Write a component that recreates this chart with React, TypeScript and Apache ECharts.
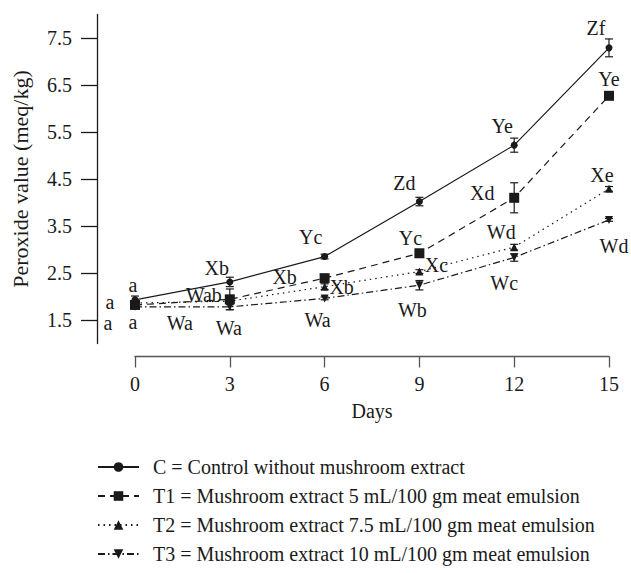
import React, { useEffect, useRef } from "react";
import * as echarts from "echarts";

const days = [0, 3, 6, 9, 12, 15];
const yTicks = [1.5, 2.5, 3.5, 4.5, 5.5, 6.5, 7.5];

const seriesNames = [
  "C = Control without mushroom extract",
  "T1 = Mushroom extract 5 mL/100 gm meat emulsion",
  "T2 = Mushroom extract 7.5 mL/100 gm meat emulsion",
  "T3 = Mushroom extract 10 mL/100 gm meat emulsion",
];

const cValues = [1.93, 2.31, 2.85, 4.02, 5.22, 7.29];
const t1Values = [1.82, 1.94, 2.39, 2.92, 4.1, 6.27];
const t2Values = [1.86, 1.9, 2.21, 2.53, 3.05, 4.29];
const t3Values = [1.78, 1.78, 1.96, 2.24, 2.83, 3.63];

const cErrors = [0.08, 0.1, 0.05, 0.09, 0.15, 0.19];
const t1Errors = [0.03, 0.22, 0.04, 0.04, 0.32, 0.04];
const t2Errors = [0.04, 0.04, 0.06, 0.04, 0.06, 0.05];
const t3Errors = [0.03, 0.06, 0.03, 0.1, 0.08, 0.03];

const cLabels = ["a", "Xb", "Yc", "Zd", "Ye", "Zf"];
const t1Labels = ["a", "Wab", "Xb", "Yc", "Xd", "Ye"];
const t2Labels = ["a", "Wa", "Xb", "Xc", "Wd", "Xe"];
const t3Labels = ["a", "Wa", "Wa", "Wb", "Wc", "Wd"];

// label placement (pixel offsets from the point) - styling only
const cOffsets = [[-2, -15], [-13, -14], [-14, -20], [-15, -19], [-12, -19], [-13, -20]];
const t1Offsets = [[-25, -3], [-26, -4], [-40, -1], [-9, -15], [-32, -5], [0, -17]];
const t2Offsets = [[-27, 20], [-50, 22], [17, 0], [17, -7], [-13, -15], [-7, -14]];
const t3Offsets = [[-2, 15], [-1, 21], [-7, 22], [-7, 25], [-10, 26], [5, 26]];

const FONT = "'Liberation Serif', 'Times New Roman', serif";
const INK = "#1a1a1a";
const FS = 20;

export default function App() {
  const ref = useRef<HTMLDivElement>(null);
  useEffect(() => {
    if (!ref.current) return;
    const chart = echarts.init(ref.current, undefined, { renderer: "svg" });

    const makeLine = (
      name: string,
      values: number[],
      labels: string[],
      offsets: number[][],
      symbol: string,
      symbolSize: number,
      rotate: number,
      lineType: any
    ) => ({
      type: "line",
      name,
      symbol,
      symbolSize,
      symbolRotate: rotate,
      showAllSymbol: true,
      z: 3,
      itemStyle: { color: INK, borderWidth: 0 },
      lineStyle: { color: INK, width: 1.2, type: lineType },
      data: values.map((v, i) => ({
        value: [days[i], v],
        label: {
          show: true,
          formatter: labels[i],
          position: "inside",
          offset: offsets[i],
          color: INK,
          fontFamily: FONT,
          fontSize: FS,
          lineHeight: 16,
          align: "center",
          verticalAlign: "middle",
        },
      })),
    });

    const makeErr = (values: number[], errors: number[]) => ({
      type: "custom",
      z: 2,
      silent: true,
      encode: { x: 0, y: 1 },
      data: values.map((v, i) => [days[i], v, errors[i]]),
      renderItem: (params: any, api: any) => {
        const x = api.value(0);
        const y = api.value(1);
        const e = api.value(2);
        const top = api.coord([x, y + e]);
        const bot = api.coord([x, y - e]);
        const hw = 4;
        const st = { stroke: INK, lineWidth: 1.2 };
        return {
          type: "group",
          children: [
            { type: "line", shape: { x1: top[0], y1: top[1], x2: bot[0], y2: bot[1] }, style: st },
            { type: "line", shape: { x1: top[0] - hw, y1: top[1], x2: top[0] + hw, y2: top[1] }, style: st },
            { type: "line", shape: { x1: bot[0] - hw, y1: bot[1], x2: bot[0] + hw, y2: bot[1] }, style: st },
          ],
        };
      },
    });

    const option: any = {
      animation: false,
      backgroundColor: "#ffffff",
      textStyle: { fontFamily: FONT, color: INK },
      grid: { left: 135, right: 22, top: 14.5, height: 329, containLabel: false },
      xAxis: {
        type: "value",
        min: 0,
        max: 15,
        interval: 3,
        offset: 13,
        name: "Days",
        nameLocation: "middle",
        nameGap: 44,
        nameTextStyle: { fontFamily: FONT, fontSize: FS, color: INK },
        axisLine: { show: true, onZero: false, lineStyle: { color: "#555", width: 1.3 } },
        axisTick: { show: true, length: 11, lineStyle: { color: "#555", width: 1.3 } },
        axisLabel: { margin: 17, fontFamily: FONT, fontSize: FS, color: INK },
        splitLine: { show: false },
      },
      yAxis: {
        type: "value",
        min: 1,
        max: 8,
        offset: 38,
        name: "Peroxide value (meq/kg)",
        nameLocation: "middle",
        nameGap: 66,
        nameTextStyle: { fontFamily: FONT, fontSize: 22, color: INK },
        axisLine: { show: true, onZero: false, lineStyle: { color: INK, width: 1.3 } },
        axisTick: { show: true, length: 16, customValues: yTicks, lineStyle: { color: INK, width: 1.3 } },
        axisLabel: {
          margin: 25,
          customValues: yTicks,
          fontFamily: FONT,
          fontSize: FS,
          color: INK,
          formatter: (v: number) => v.toFixed(1),
        },
        splitLine: { show: false },
      },
      legend: {
        orient: "vertical",
        left: 92,
        top: 452,
        itemWidth: 41,
        itemHeight: 12,
        itemGap: 9,
        data: seriesNames,
        textStyle: { fontFamily: FONT, fontSize: FS, color: INK, lineHeight: 20, padding: [0, 0, 0, 9] },
      },
      series: [
        makeErr(cValues, cErrors),
        makeErr(t1Values, t1Errors),
        makeErr(t2Values, t2Errors),
        makeErr(t3Values, t3Errors),
        makeLine(seriesNames[0], cValues, cLabels, cOffsets, "circle", 7, 0, "solid"),
        makeLine(seriesNames[1], t1Values, t1Labels, t1Offsets, "rect", 10, 0, [7, 5]),
        makeLine(seriesNames[2], t2Values, t2Labels, t2Offsets, "triangle", 8, 0, [1.5, 4]),
        makeLine(seriesNames[3], t3Values, t3Labels, t3Offsets, "triangle", 8, 180, [7, 3, 1.5, 3]),
      ],
    };
    chart.setOption(option);
    return () => chart.dispose();
  }, []);

  return (
    <div
      ref={ref}
      style={{ position: "absolute", left: 0, top: 0, width: 631, height: 573, background: "#fff" }}
    />
  );
}
